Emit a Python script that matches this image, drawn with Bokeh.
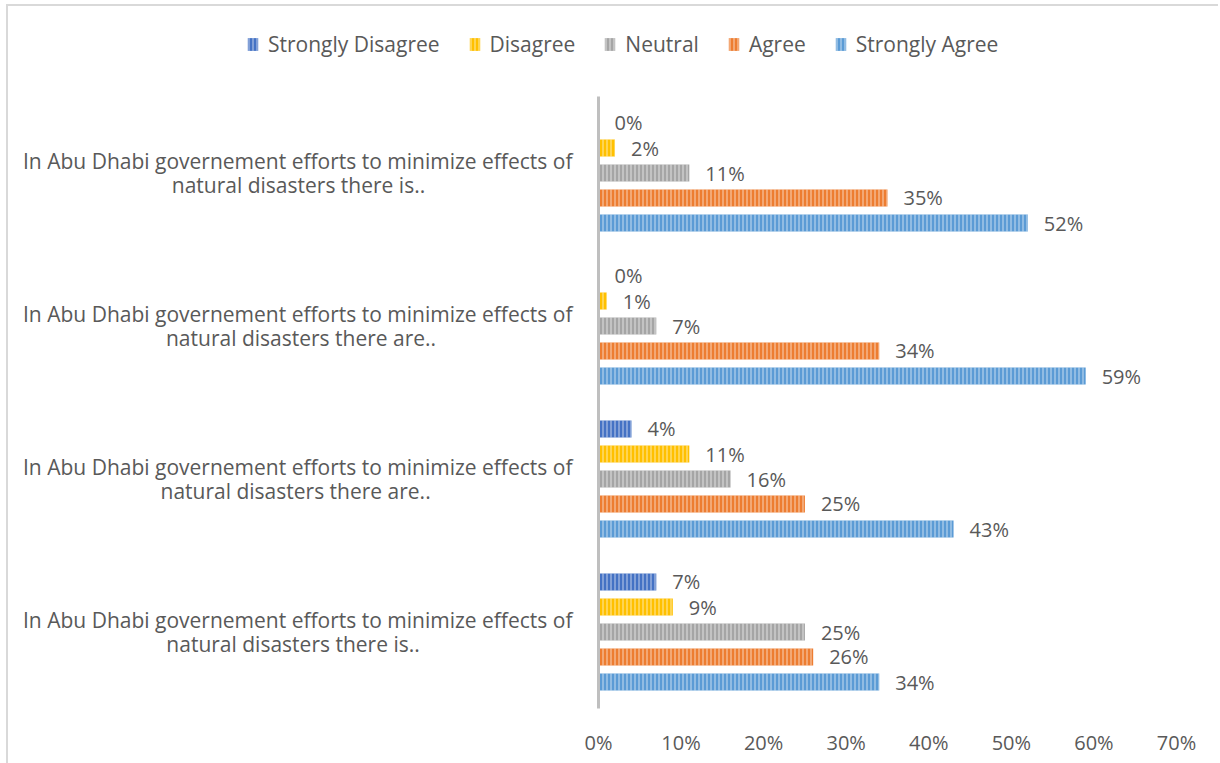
from bokeh.plotting import figure
from bokeh.models import ColumnDataSource, FactorRange, Legend, LegendItem, FixedTicker
from bokeh.transform import dodge
from bokeh.core.properties import value
from bokeh.embed import file_html
from bokeh.resources import INLINE

NB = "\u00a0"

# Survey statements, top to bottom. The second line is padded with
# non-breaking spaces so that it sits centred under the first line
# (this also keeps the repeated wording distinct as factors).
statements = [
    "In Abu Dhabi governement efforts to minimize effects of\nnatural disasters there is.." + NB * 27,
    "In Abu Dhabi governement efforts to minimize effects of\nnatural disasters there are.." + NB * 25,
    "In Abu Dhabi governement efforts to minimize effects of\nnatural disasters there are.." + NB * 26,
    "In Abu Dhabi governement efforts to minimize effects of\nnatural disasters there is.." + NB * 28,
]

responses = ["Strongly Disagree", "Disagree", "Neutral", "Agree", "Strongly Agree"]
colors = ["#4472C4", "#FFC000", "#A5A5A5", "#ED7D31", "#5B9BD5"]

# Share of respondents (%) per statement, top to bottom
strongly_disagree = [0, 0, 4, 7]
disagree = [2, 1, 11, 9]
neutral = [11, 7, 16, 25]
agree = [35, 34, 25, 26]
strongly_agree = [52, 59, 43, 34]

x_ticks = [0, 10, 20, 30, 40, 50, 60, 70]

series = [strongly_disagree, disagree, neutral, agree, strongly_agree]
offsets = [0.327, 0.163, 0.0, -0.163, -0.327]

FONT = "Open Sans"
TEXT_COLOR = "#595959"
FS = "20px"
HATCH = dict(hatch_pattern="vertical_line", hatch_color="white",
             hatch_alpha=0.55, hatch_scale=4, hatch_weight=1.2)
FRAME_LINE = "2px solid #D9D9D9"

# ---- legend strip across the top ----
lg = figure(
    width=1212, height=92, x_range=(0, 1), y_range=(0, 1),
    output_backend="svg", toolbar_location=None,
    x_axis_location=None, y_axis_location=None, min_border=0,
)
lg.outline_line_color = None
lg.xgrid.grid_line_color = None
lg.ygrid.grid_line_color = None
lg.margin = (4, 0, 0, 6)
lg.styles = {"border-top": FRAME_LINE, "border-left": FRAME_LINE}

items = []
for name, col in zip(responses, colors):
    # zero-length swatch carrier: only its style is used, by the legend
    r = lg.hbar(y=[0.5], left=[0], right=[0], height=0.1,
                fill_color=col, line_color=None, **HATCH)
    items.append(LegendItem(label=name, renderers=[r]))

legend = Legend(
    items=items, orientation="horizontal", location=(238, 40),
    border_line_color=None, background_fill_alpha=0,
    label_text_font=FONT, label_text_font_size="21px", label_text_color=TEXT_COLOR,
    glyph_width=13, glyph_height=16, label_standoff=9, spacing=28,
    padding=0, margin=0,
)
lg.add_layout(legend, "center")

# ---- main bar chart ----
p = figure(
    width=1212, height=668,
    y_range=FactorRange(*reversed(statements)),
    x_range=(0, 70),
    output_backend="svg", toolbar_location=None,
    min_border_left=590, min_border_right=44,
    min_border_top=0, min_border_bottom=56,
)
p.margin = (0, 0, 0, 6)
p.styles = {"border-left": FRAME_LINE}
p.outline_line_color = None
p.background_fill_color = "white"
p.border_fill_color = "white"

for name, vals, col, off in zip(responses, series, colors, offsets):
    src = ColumnDataSource(dict(
        stmt=statements,
        val=vals,
        lbl=[f"{v}%" for v in vals],
    ))
    p.hbar(
        y=dodge("stmt", off, range=p.y_range), right="val", left=0,
        height=0.111, source=src,
        fill_color=col, line_color=None, **HATCH,
    )
    p.text(
        x="val", y=dodge("stmt", off, range=p.y_range), text="lbl", source=src,
        x_offset=16, text_baseline="middle", text_align="left",
        text_font=value(FONT), text_font_size=FS, text_color=TEXT_COLOR,
    )

p.xgrid.grid_line_color = None
p.ygrid.grid_line_color = None

p.xaxis.ticker = FixedTicker(ticks=x_ticks)
p.xaxis.major_label_overrides = {t: f"{t}%" for t in x_ticks}
p.xaxis.axis_line_color = None
p.xaxis.major_tick_line_color = None
p.xaxis.minor_tick_line_color = None
p.xaxis.major_label_standoff = 14
p.xaxis.major_label_text_font = FONT
p.xaxis.major_label_text_font_size = FS
p.xaxis.major_label_text_color = TEXT_COLOR

p.yaxis.axis_line_color = "#BFBFBF"
p.yaxis.axis_line_width = 3
p.yaxis.major_tick_line_color = None
p.yaxis.minor_tick_line_color = None
p.yaxis.major_label_standoff = 20
p.yaxis.major_label_text_font = FONT
p.yaxis.major_label_text_font_size = "21px"
p.yaxis.major_label_text_line_height = 0.875
p.yaxis.major_label_text_color = TEXT_COLOR

open("out.html", "w").write(file_html([lg, p], INLINE))
